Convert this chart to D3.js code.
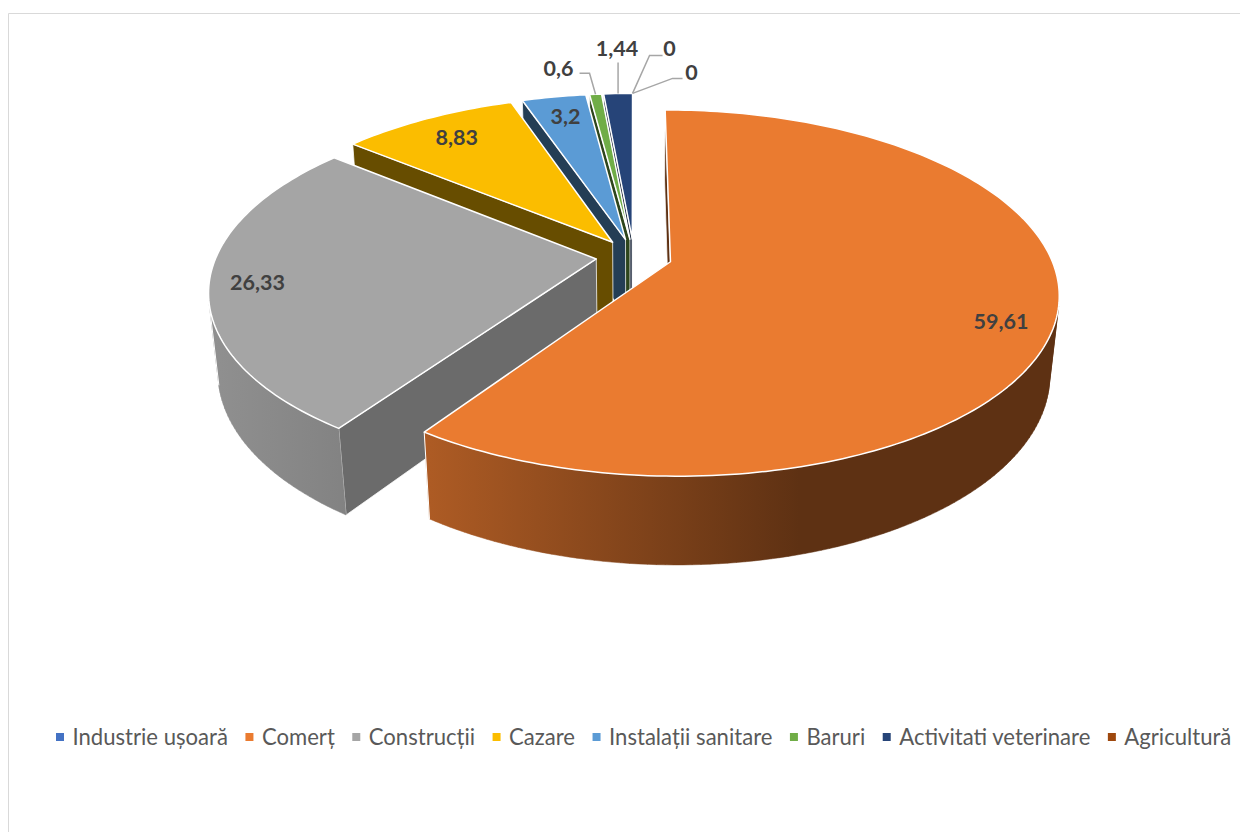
<!DOCTYPE html>
<html>
<head>
<meta charset="utf-8">
<script src="https://d3js.org/d3.v7.min.js"></script>
<style>
  html, body { margin: 0; padding: 0; background: #fff; }
  svg { display: block; font-family: Lato, "Open Sans", sans-serif; }
</style>
</head>
<body>
<div id="chart"></div>
<script>
const categories = ["Industrie ușoară", "Comerț", "Construcții", "Cazare", "Instalații sanitare", "Baruri", "Activitati veterinare", "Agricultură"];
const values = [0, 59.61, 26.33, 8.83, 3.2, 0.6, 1.44, 0];
const valueLabels = ["0", "59,61", "26,33", "8,83", "3,2", "0,6", "1,44", "0"];
const colors = ["#4472c4", "#ea7b30", "#a5a5a5", "#fbbd00", "#5b9bd5", "#70ad47", "#264478", "#9e480e"];

// shade of the straight cut face, per slice
const faceShade = [0.4, 0.4, 0.65, 0.41, 0.4, 0.4, 0.4, 0.4];

const width = 1240, height = 832;

// perspective of the tilted disc: world unit radius -> screen
const view = {ox: 634, oy: 256.5, a: 380, b: 176, k: 0.17, drop: 80, recede: 0.022, explode: 0.1};

function project(x, y, lower) {
  const w = 1 + view.k * y + (lower ? view.recede : 0);
  return [view.ox + view.a * x / w, view.oy + (-view.b * y + (lower ? view.drop : 0)) / w];
}

// world point on a slice, r in units of radius
function slicePoint(d, angle, r) {
  const mid = (d.startAngle + d.endAngle) / 2;
  return [view.explode * Math.sin(mid) + r * Math.sin(angle),
          view.explode * Math.cos(mid) + r * Math.cos(angle)];
}

function rimAngles(d) {
  const n = Math.max(2, Math.ceil((d.endAngle - d.startAngle) / 0.02));
  return d3.range(n + 1).map(i => d.startAngle + (d.endAngle - d.startAngle) * i / n);
}

const pie = d3.pie().sort(null).value(v => v);
const slices = pie(values).map((d, i) => Object.assign(d, {i}));
const drawn = slices.filter(d => d.value > 0);
const line = d3.line();

const svg = d3.select("#chart").append("svg")
    .attr("width", width)
    .attr("height", height);

// chart frame
svg.append("path")
    .attr("d", `M8.5,${height}V13.5H${width}`)
    .attr("fill", "none")
    .attr("stroke", "#d9d9d9");

// side wall shading, darker to the right
const wallX = d3.scaleLinear().domain([210, 430, 800, 1060]).range([0.87, 0.74, 0.4, 0.4]);
const defs = svg.append("defs");
drawn.forEach(d => {
  const g = defs.append("linearGradient")
      .attr("id", "wall" + d.i)
      .attr("gradientUnits", "userSpaceOnUse")
      .attr("x1", 210).attr("x2", 1060).attr("y1", 0).attr("y2", 0);
  const c = d3.rgb(colors[d.i]);
  wallX.domain().forEach(x => {
    const f = wallX(x);
    g.append("stop")
        .attr("offset", (x - 210) / 850)
        .attr("stop-color", d3.rgb(c.r * f, c.g * f, c.b * f));
  });
});

// walls first, far slices before near ones, faces turned away are skipped
const walls = svg.append("g");
drawn.slice().sort((a, b) =>
    Math.cos((b.startAngle + b.endAngle) / 2) - Math.cos((a.startAngle + a.endAngle) / 2))
  .forEach(d => {
    const c = d3.rgb(colors[d.i]);
    const f = faceShade[d.i];
    const shade = d3.rgb(c.r * f, c.g * f, c.b * f);
    [[d.startAngle, 1], [d.endAngle, -1]].forEach(([a, sign]) => {
      const apex = slicePoint(d, a, 0), rim = slicePoint(d, a, 1);
      const quad = [project(...apex), project(...rim), project(...rim, true), project(...apex, true)];
      if (d3.polygonArea(quad) * sign < 0) return;
      walls.append("path")
          .attr("d", line(quad) + "Z")
          .attr("fill", shade)
          .attr("stroke", "#fff")
          .attr("stroke-width", 0.75);
    });

    const rim = rimAngles(d).map(a => slicePoint(d, a, 1));
    let path = "";
    let last = null;
    d3.pairs(rim).forEach(([p, q]) => {
      const quad = [project(...p), project(...q), project(...q, true), project(...p, true)];
      if (d3.polygonArea(quad) <= 0) return;
      path += line(quad) + "Z";
      last = [quad[1], quad[2]];
    });
    if (!path) return;
    walls.append("path")
        .attr("d", path)
        .attr("fill", `url(#wall${d.i})`)
        .attr("stroke", `url(#wall${d.i})`)
        .attr("stroke-width", 0.5);
    // light seam where the round wall meets the cut
    walls.append("path")
        .attr("d", line(last))
        .attr("stroke", "#fff")
        .attr("stroke-width", 1);
  });

// top faces all lie in one plane, nothing below can cover them
svg.append("g").selectAll("path")
  .data(drawn)
  .join("path")
    .attr("d", d => {
      const pts = [slicePoint(d, d.startAngle, 0)].concat(rimAngles(d).map(a => slicePoint(d, a, 1)));
      return line(pts.map(p => project(...p))) + "Z";
    })
    .attr("fill", d => colors[d.i])
    .attr("stroke", "#fff")
    .attr("stroke-width", 1.5)
    .attr("stroke-linejoin", "round");

// data labels: inside ones sit at a fraction of the radius, small ones on leaders
const labelSpec = {
  1: {r: 0.86, along: 0.5, tx: 1, ty: 12},
  2: {r: 0.88, along: 0.5, tx: 1, ty: 1},
  3: {r: 0.8, along: 0.5, tx: -4, ty: -3},
  4: {r: 0.83, along: 0.5, tx: 1, ty: -2},
  5: {r: 1, along: 0.5, tx: -37, ty: -26, leader: [[-6, -21], [-16, -21]]},
  6: {r: 1, along: 0.5, tx: -1, ty: -45, leader: [[0, -31]]},
  0: {r: 1, along: 1, ref: 6, tx: 37, ty: -45, leader: [[17, -38], [30, -38]]},
  7: {r: 1, along: 1, ref: 6, tx: 59, ty: -21, leader: [[40, -15], [50, -15]]}
};

const labels = svg.append("g");
slices.forEach(d => {
  const s = labelSpec[d.i];
  const base = s.ref !== undefined ? slices[s.ref] : d;
  const angle = base.startAngle + (base.endAngle - base.startAngle) * s.along;
  const p = project(...slicePoint(base, angle, s.r));
  if (s.leader) {
    labels.append("path")
        .attr("d", line([p].concat(s.leader.map(o => [p[0] + o[0], p[1] + o[1]]))))
        .attr("fill", "none")
        .attr("stroke", "#a6a6a6")
        .attr("stroke-width", 1.5);
  }
  labels.append("text")
      .attr("x", p[0] + (s.tx || 0))
      .attr("y", p[1] + (s.ty || 0))
      .attr("dy", "0.35em")
      .attr("text-anchor", "middle")
      .attr("font-size", 21.5)
      .attr("font-weight", 700)
      .attr("fill", "#404040")
      .text(valueLabels[d.i]);
});

// legend, laid out left to right
let legendX = 56;
const legend = svg.append("g");
categories.forEach((name, i) => {
  legend.append("rect")
      .attr("x", legendX).attr("y", 733)
      .attr("width", 8).attr("height", 8)
      .attr("fill", colors[i]);
  const t = legend.append("text")
      .attr("x", legendX + 16.5)
      .attr("y", 737)
      .attr("dy", "0.35em")
      .attr("font-size", 22.1)
      .attr("fill", "#595959")
      .text(name);
  legendX += 16.5 + t.node().getComputedTextLength() + 17.5;
});
</script>
</body>
</html>
